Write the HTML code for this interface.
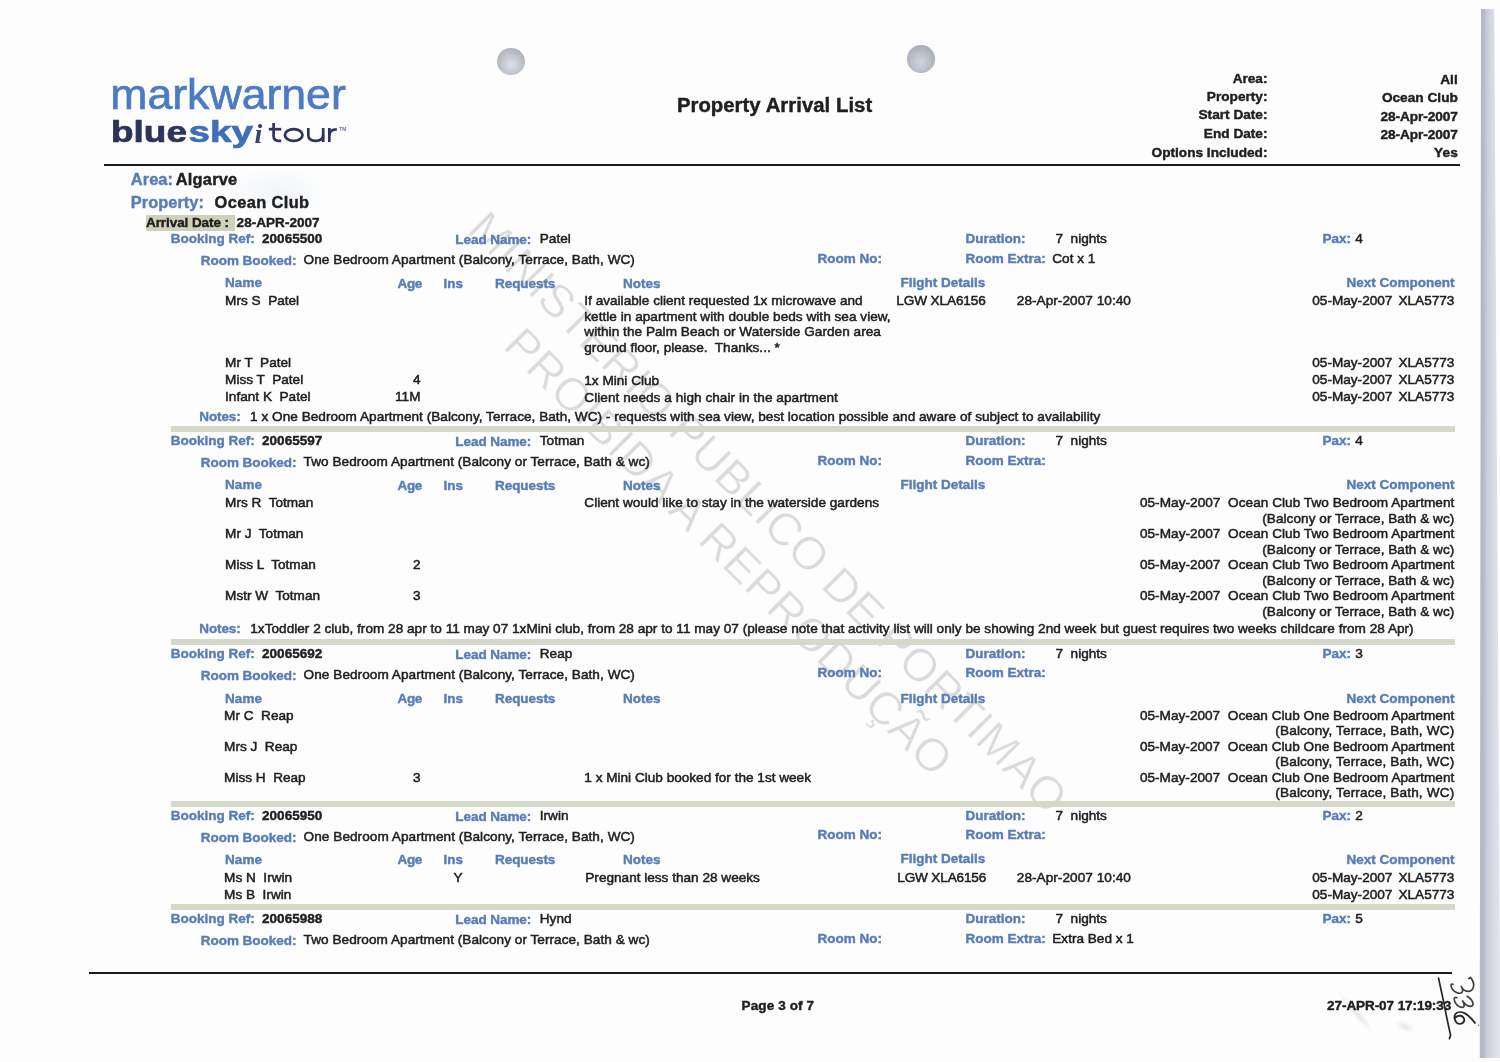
<!DOCTYPE html>
<html><head><meta charset="utf-8"><title>Property Arrival List</title>
<style>
html,body{margin:0;padding:0;background:#fdfdfd}
body{width:1500px;height:1062px;position:relative;overflow:hidden;background:#fdfdfd;filter:blur(0.45px);font-family:"Liberation Sans",sans-serif;color:#202020}
.t{position:absolute;white-space:pre;line-height:0;font-size:13.6px;margin-top:-0.3465em;-webkit-text-stroke:0.5px currentColor}
.b{font-weight:700;font-size:13.5px;-webkit-text-stroke:0.42px currentColor}
.hb{font-weight:700;font-size:13.65px;-webkit-text-stroke:0.42px currentColor}
.bl{color:#587db6}
.h1{font-weight:700;font-size:16.4px;-webkit-text-stroke:0.42px currentColor}
.title{font-weight:700;font-size:20.3px;-webkit-text-stroke:0.42px currentColor}
.band{position:absolute;background:#d5d9ca}
.hl{position:absolute;background:#cfd1bb}
.abs{position:absolute}
.wm{position:absolute;white-space:pre;line-height:0;font-size:46px;color:#dbdbdb;transform-origin:0 0;transform:rotate(45deg) translateY(-0.3465em);-webkit-text-stroke:0.5px #fdfdfd}
.rule{position:absolute;background:#1c1c1c;height:2.4px}
.hole{position:absolute;width:28px;height:27.6px;border-radius:50%;background:radial-gradient(circle at 50% 60%,#dcdfe6 0%,#ccd0d9 28%,#b6b9c3 62%,#a5a7b0 100%);filter:blur(0.5px)}
.sm{position:absolute;border-radius:50%}
.edge{position:absolute;left:1479px;top:9px;width:22px;height:1049px;background:linear-gradient(90deg,#b3b6be 0%,#b8bbc5 22%,#cbcfd9 38%,#d9dce5 65%,#e3e6ee 100%);clip-path:polygon(2px 0,15.2px 0,21.5px 100%,0.8px 100%);filter:blur(0.4px)}
</style></head><body>
<div class="edge"></div>
<div class="sm" style="left:228px;top:166px;width:100px;height:56px;background:radial-gradient(ellipse at 50% 50%,rgba(228,234,243,0.45) 0%,rgba(234,239,246,0.28) 45%,rgba(253,253,253,0) 72%)"></div>
<div class="sm" style="left:1330px;top:1008px;width:52px;height:9px;transform:rotate(50deg);background:radial-gradient(ellipse at 50% 50%,rgba(222,222,226,0.8) 0%,rgba(235,235,238,0.4) 50%,rgba(253,253,253,0) 75%)"></div>
<div class="sm" style="left:1394px;top:1021px;width:22px;height:11px;transform:rotate(20deg);background:radial-gradient(ellipse at 50% 50%,rgba(226,226,230,0.8) 0%,rgba(238,238,240,0.4) 50%,rgba(253,253,253,0) 75%)"></div>
<div class="hole" style="left:496.9px;top:47.6px"></div>
<div class="hole" style="left:907.3px;top:45.3px;background:radial-gradient(circle at 48% 60%,#d0d4dd 0%,#c3c7d1 28%,#b0b3bd 62%,#a2a4ad 100%)"></div>
<div class="rule" style="left:104px;top:163.8px;width:1356px"></div>
<div class="rule" style="left:89px;top:972.2px;width:1363px;height:2px"></div>
<svg class="abs" style="left:0;top:0" width="400" height="165" viewBox="0 0 400 165">
<g font-family="'Liberation Sans',sans-serif">
<text x="110.3" y="108.5" font-size="43" fill="#4c7bc3" stroke="#4c7bc3" stroke-width="0.7" textLength="235.5" lengthAdjust="spacingAndGlyphs">markwarner</text>
<text x="111" y="142" font-size="30" font-weight="700" fill="#2b3459" stroke="#2b3459" stroke-width="0.7" textLength="76" lengthAdjust="spacingAndGlyphs">blue</text>
<text x="188.5" y="142" font-size="30" font-weight="700" fill="#416eb6" stroke="#416eb6" stroke-width="0.7" textLength="64.5" lengthAdjust="spacingAndGlyphs">sky</text>
<text x="254.6" y="142.8" font-family="'Liberation Serif',serif" font-style="italic" font-weight="700" font-size="28" fill="#33456f">i</text>
<g fill="none" stroke="#2b3459" stroke-width="2.7" stroke-linecap="butt">
<path d="M273.6 122.9 V136 Q273.6 140.8 278.6 140.8 H281.2"/>
<path d="M268.8 129.2 H281.2"/>
<ellipse cx="293.7" cy="135" rx="8.8" ry="5.9"/>
<path d="M308.3 128 V135 Q308.3 140.8 315.5 140.8 Q323.2 140.8 323.2 135"/>
<path d="M323.2 128 V142"/>
<path d="M329.3 128 V142"/>
<path d="M329.3 135 Q329.6 129.3 336.8 129.3"/>
</g>
<text x="339.3" y="131" font-size="5" font-weight="700" fill="#6a7aa5">TM</text>
</g></svg>
<div class="wm" style="left:466px;top:231px;letter-spacing:0.29px;transform:rotate(45.15deg) translateY(-0.3465em)">MINISTERIO PUBLICO DE PORTIMAO</div>
<div class="wm" style="left:501.5px;top:347px;letter-spacing:0.6px">PROIBIDA A REPRODUÇÃO</div>
<div class="hl" style="left:146px;top:214.5px;width:88.5px;height:16.3px"></div>
<div class="band" style="left:170.5px;top:425.7px;width:1284.5px;height:6.4px"></div>
<div class="band" style="left:170.5px;top:638.7px;width:1284.5px;height:6.4px"></div>
<div class="band" style="left:170.5px;top:801px;width:1284.5px;height:6.4px"></div>
<div class="band" style="left:170.5px;top:904px;width:1284.5px;height:6.4px"></div>
<div class="t hb" style="right:232.5px;top:84.1px;">Area:</div>
<div class="t hb" style="right:232.5px;top:102.1px;">Property:</div>
<div class="t hb" style="right:232.5px;top:120.1px;">Start Date:</div>
<div class="t hb" style="right:232.5px;top:138.3px;">End Date:</div>
<div class="t hb" style="right:232.5px;top:157.4px;">Options Included:</div>
<div class="t hb" style="left:1440.2px;top:85.0px;letter-spacing:0.076px;">All</div>
<div class="t hb" style="left:1381.9px;top:103.0px;letter-spacing:0.017px;">Ocean Club</div>
<div class="t hb" style="left:1380.6px;top:121.4px;letter-spacing:-0.077px;">28-Apr-2007</div>
<div class="t hb" style="left:1380.6px;top:139.5px;letter-spacing:-0.077px;">28-Apr-2007</div>
<div class="t hb" style="left:1434.0px;top:157.5px;letter-spacing:0.111px;">Yes</div>
<div class="t title" style="left:676.9px;top:112.1px;letter-spacing:0.051px;">Property Arrival List</div>
<div class="t h1 bl" style="left:130.8px;top:185.0px;letter-spacing:0.067px;">Area:</div>
<div class="t h1" style="left:175.8px;top:185.0px;letter-spacing:0.214px;">Algarve</div>
<div class="t h1 bl" style="left:130.8px;top:207.3px;letter-spacing:0.041px;">Property:</div>
<div class="t h1" style="left:214.6px;top:207.3px;letter-spacing:0.376px;">Ocean Club</div>
<div class="t b" style="left:146.0px;top:227.9px;letter-spacing:-0.078px;">Arrival Date :</div>
<div class="t b" style="left:236.6px;top:227.9px;letter-spacing:0.046px;">28-APR-2007</div>
<div class="t b bl" style="left:170.8px;top:243.9px;letter-spacing:-0.012px;">Booking Ref:</div>
<div class="t b" style="left:262.0px;top:243.9px;letter-spacing:0.034px;">20065500</div>
<div class="t b bl" style="left:455.3px;top:244.9px;letter-spacing:-0.058px;">Lead Name:</div>
<div class="t r" style="left:539.8px;top:243.9px;">Patel</div>
<div class="t b bl" style="left:965.5px;top:243.9px;">Duration:</div>
<div class="t r" style="left:1055.5px;top:243.9px;">7  nights</div>
<div class="t b bl" style="left:1322.5px;top:243.9px;">Pax:</div>
<div class="t r" style="left:1355.3px;top:243.9px;">4</div>
<div class="t b bl" style="left:200.8px;top:265.6px;letter-spacing:-0.038px;">Room Booked:</div>
<div class="t r" style="left:303.6px;top:264.6px;letter-spacing:0.049px;">One Bedroom Apartment (Balcony, Terrace, Bath, WC)</div>
<div class="t b bl" style="left:817.5px;top:263.4px;">Room No:</div>
<div class="t b bl" style="left:965.5px;top:263.4px;">Room Extra:</div>
<div class="t r" style="left:1052.3px;top:263.9px;">Cot x 1</div>
<div class="t b bl" style="left:225.1px;top:287.9px;letter-spacing:0.017px;">Name</div>
<div class="t b bl" style="left:397.6px;top:288.2px;letter-spacing:-0.389px;">Age</div>
<div class="t b bl" style="left:443.5px;top:288.2px;">Ins</div>
<div class="t b bl" style="left:495.1px;top:288.4px;letter-spacing:-0.079px;">Requests</div>
<div class="t b bl" style="left:623.1px;top:288.4px;">Notes</div>
<div class="t b bl" style="left:900.6px;top:287.4px;">Flight Details</div>
<div class="t b bl" style="right:45.6px;top:287.9px;">Next Component</div>
<div class="t r" style="left:225.1px;top:305.6px;">Mrs S  Patel</div>
<div class="t r" style="left:584.3px;top:305.6px;letter-spacing:0.006px;">If available client requested 1x microwave and</div>
<div class="t r" style="left:896.3px;top:305.6px;letter-spacing:-0.121px;">LGW XLA6156</div>
<div class="t r" style="left:1016.8px;top:305.6px;letter-spacing:0.046px;">28-Apr-2007 10:40</div>
<div class="t r" style="left:1312.3px;top:305.6px;">05-May-2007</div>
<div class="t r" style="right:45.6px;top:305.6px;">XLA5773</div>
<div class="t r" style="left:584.3px;top:321.7px;letter-spacing:0.021px;">kettle in apartment with double beds with sea view,</div>
<div class="t r" style="left:584.3px;top:337.2px;letter-spacing:0.037px;">within the Palm Beach or Waterside Garden area</div>
<div class="t r" style="left:584.3px;top:352.7px;">ground floor, please.  Thanks... *</div>
<div class="t r" style="left:225.1px;top:367.6px;">Mr T  Patel</div>
<div class="t r" style="left:1312.3px;top:367.6px;">05-May-2007</div>
<div class="t r" style="right:45.6px;top:367.6px;">XLA5773</div>
<div class="t r" style="left:225.1px;top:384.9px;">Miss T  Patel</div>
<div class="t r" style="right:1079.5px;top:384.9px;">4</div>
<div class="t r" style="left:584.3px;top:385.5px;">1x Mini Club</div>
<div class="t r" style="left:1312.3px;top:384.9px;">05-May-2007</div>
<div class="t r" style="right:45.6px;top:384.9px;">XLA5773</div>
<div class="t r" style="left:225.1px;top:401.8px;">Infant K  Patel</div>
<div class="t r" style="right:1079.5px;top:401.8px;">11M</div>
<div class="t r" style="left:584.3px;top:402.4px;letter-spacing:0.048px;">Client needs a high chair in the apartment</div>
<div class="t r" style="left:1312.3px;top:401.8px;">05-May-2007</div>
<div class="t r" style="right:45.6px;top:401.8px;">XLA5773</div>
<div class="t b bl" style="left:199.3px;top:421.8px;letter-spacing:-0.111px;">Notes:</div>
<div class="t r" style="left:250.1px;top:421.8px;letter-spacing:0.021px;">1 x One Bedroom Apartment (Balcony, Terrace, Bath, WC) - requests with sea view, best location possible and aware of subject to availability</div>
<div class="t b bl" style="left:170.8px;top:446.1px;letter-spacing:-0.012px;">Booking Ref:</div>
<div class="t b" style="left:262.0px;top:446.1px;letter-spacing:0.034px;">20065597</div>
<div class="t b bl" style="left:455.3px;top:447.1px;letter-spacing:-0.058px;">Lead Name:</div>
<div class="t r" style="left:539.8px;top:446.1px;">Totman</div>
<div class="t b bl" style="left:965.5px;top:446.1px;">Duration:</div>
<div class="t r" style="left:1055.5px;top:446.1px;">7  nights</div>
<div class="t b bl" style="left:1322.5px;top:446.1px;">Pax:</div>
<div class="t r" style="left:1355.3px;top:446.1px;">4</div>
<div class="t b bl" style="left:200.8px;top:467.8px;letter-spacing:-0.038px;">Room Booked:</div>
<div class="t r" style="left:303.6px;top:466.8px;letter-spacing:0.037px;">Two Bedroom Apartment (Balcony or Terrace, Bath &amp; wc)</div>
<div class="t b bl" style="left:817.5px;top:465.6px;">Room No:</div>
<div class="t b bl" style="left:965.5px;top:465.6px;">Room Extra:</div>
<div class="t b bl" style="left:225.1px;top:490.1px;letter-spacing:0.017px;">Name</div>
<div class="t b bl" style="left:397.6px;top:490.4px;letter-spacing:-0.389px;">Age</div>
<div class="t b bl" style="left:443.5px;top:490.4px;">Ins</div>
<div class="t b bl" style="left:495.1px;top:490.6px;letter-spacing:-0.079px;">Requests</div>
<div class="t b bl" style="left:623.1px;top:490.6px;">Notes</div>
<div class="t b bl" style="left:900.6px;top:489.6px;">Flight Details</div>
<div class="t b bl" style="right:45.6px;top:490.1px;">Next Component</div>
<div class="t r" style="left:225.1px;top:508.1px;">Mrs R  Totman</div>
<div class="t r" style="left:1139.9px;top:508.1px;letter-spacing:0.042px;">05-May-2007  Ocean Club Two Bedroom Apartment</div>
<div class="t r" style="left:1262.3px;top:523.6px;letter-spacing:0.038px;">(Balcony or Terrace, Bath &amp; wc)</div>
<div class="t r" style="left:225.1px;top:539.1px;">Mr J  Totman</div>
<div class="t r" style="left:1139.9px;top:539.1px;letter-spacing:0.042px;">05-May-2007  Ocean Club Two Bedroom Apartment</div>
<div class="t r" style="left:1262.3px;top:554.6px;letter-spacing:0.038px;">(Balcony or Terrace, Bath &amp; wc)</div>
<div class="t r" style="left:225.1px;top:570.1px;">Miss L  Totman</div>
<div class="t r" style="right:1079.5px;top:570.1px;">2</div>
<div class="t r" style="left:1139.9px;top:570.1px;letter-spacing:0.042px;">05-May-2007  Ocean Club Two Bedroom Apartment</div>
<div class="t r" style="left:1262.3px;top:585.6px;letter-spacing:0.038px;">(Balcony or Terrace, Bath &amp; wc)</div>
<div class="t r" style="left:225.1px;top:601.1px;">Mstr W  Totman</div>
<div class="t r" style="right:1079.5px;top:601.1px;">3</div>
<div class="t r" style="left:1139.9px;top:601.1px;letter-spacing:0.042px;">05-May-2007  Ocean Club Two Bedroom Apartment</div>
<div class="t r" style="left:1262.3px;top:616.6px;letter-spacing:0.038px;">(Balcony or Terrace, Bath &amp; wc)</div>
<div class="t r" style="left:584.3px;top:508.1px;letter-spacing:0.016px;">Client would like to stay in the waterside gardens</div>
<div class="t b bl" style="left:199.3px;top:633.9px;letter-spacing:-0.111px;">Notes:</div>
<div class="t r" style="left:250.3px;top:633.9px;letter-spacing:0.013px;">1xToddler 2 club, from 28 apr to 11 may 07 1xMini club, from 28 apr to 11 may 07 (please note that activity list will only be showing 2nd week but guest requires two weeks childcare from 28 Apr)</div>
<div class="t b bl" style="left:170.8px;top:658.6px;letter-spacing:-0.012px;">Booking Ref:</div>
<div class="t b" style="left:262.0px;top:658.6px;letter-spacing:0.034px;">20065692</div>
<div class="t b bl" style="left:455.3px;top:659.6px;letter-spacing:-0.058px;">Lead Name:</div>
<div class="t r" style="left:539.8px;top:658.6px;">Reap</div>
<div class="t b bl" style="left:965.5px;top:658.6px;">Duration:</div>
<div class="t r" style="left:1055.5px;top:658.6px;">7  nights</div>
<div class="t b bl" style="left:1322.5px;top:658.6px;">Pax:</div>
<div class="t r" style="left:1355.3px;top:658.6px;">3</div>
<div class="t b bl" style="left:200.8px;top:680.3px;letter-spacing:-0.038px;">Room Booked:</div>
<div class="t r" style="left:303.6px;top:679.3px;letter-spacing:0.049px;">One Bedroom Apartment (Balcony, Terrace, Bath, WC)</div>
<div class="t b bl" style="left:817.5px;top:678.1px;">Room No:</div>
<div class="t b bl" style="left:965.5px;top:678.1px;">Room Extra:</div>
<div class="t b bl" style="left:225.1px;top:703.4px;letter-spacing:0.017px;">Name</div>
<div class="t b bl" style="left:397.6px;top:703.7px;letter-spacing:-0.389px;">Age</div>
<div class="t b bl" style="left:443.5px;top:703.7px;">Ins</div>
<div class="t b bl" style="left:495.1px;top:703.9px;letter-spacing:-0.079px;">Requests</div>
<div class="t b bl" style="left:623.1px;top:703.9px;">Notes</div>
<div class="t b bl" style="left:900.6px;top:703.4px;">Flight Details</div>
<div class="t b bl" style="right:45.6px;top:703.4px;">Next Component</div>
<div class="t r" style="left:224.1px;top:720.6px;">Mr C  Reap</div>
<div class="t r" style="left:1139.9px;top:720.6px;letter-spacing:0.019px;">05-May-2007  Ocean Club One Bedroom Apartment</div>
<div class="t r" style="left:1275.3px;top:736.1px;letter-spacing:0.153px;">(Balcony, Terrace, Bath, WC)</div>
<div class="t r" style="left:224.1px;top:751.6px;">Mrs J  Reap</div>
<div class="t r" style="left:1139.9px;top:751.6px;letter-spacing:0.019px;">05-May-2007  Ocean Club One Bedroom Apartment</div>
<div class="t r" style="left:1275.3px;top:767.1px;letter-spacing:0.153px;">(Balcony, Terrace, Bath, WC)</div>
<div class="t r" style="left:224.1px;top:782.6px;">Miss H  Reap</div>
<div class="t r" style="right:1079.5px;top:782.6px;">3</div>
<div class="t r" style="left:1139.9px;top:782.6px;letter-spacing:0.019px;">05-May-2007  Ocean Club One Bedroom Apartment</div>
<div class="t r" style="left:1275.3px;top:798.1px;letter-spacing:0.153px;">(Balcony, Terrace, Bath, WC)</div>
<div class="t r" style="left:584.3px;top:782.6px;">1 x Mini Club booked for the 1st week</div>
<div class="t b bl" style="left:170.8px;top:820.6px;letter-spacing:-0.012px;">Booking Ref:</div>
<div class="t b" style="left:262.0px;top:820.6px;letter-spacing:0.034px;">20065950</div>
<div class="t b bl" style="left:455.3px;top:821.6px;letter-spacing:-0.058px;">Lead Name:</div>
<div class="t r" style="left:539.8px;top:820.6px;">Irwin</div>
<div class="t b bl" style="left:965.5px;top:820.6px;">Duration:</div>
<div class="t r" style="left:1055.5px;top:820.6px;">7  nights</div>
<div class="t b bl" style="left:1322.5px;top:820.6px;">Pax:</div>
<div class="t r" style="left:1355.3px;top:820.6px;">2</div>
<div class="t b bl" style="left:200.8px;top:842.3px;letter-spacing:-0.038px;">Room Booked:</div>
<div class="t r" style="left:303.6px;top:841.3px;letter-spacing:0.049px;">One Bedroom Apartment (Balcony, Terrace, Bath, WC)</div>
<div class="t b bl" style="left:817.5px;top:840.1px;">Room No:</div>
<div class="t b bl" style="left:965.5px;top:840.1px;">Room Extra:</div>
<div class="t b bl" style="left:225.1px;top:864.6px;letter-spacing:0.017px;">Name</div>
<div class="t b bl" style="left:397.6px;top:864.9px;letter-spacing:-0.389px;">Age</div>
<div class="t b bl" style="left:443.5px;top:864.9px;">Ins</div>
<div class="t b bl" style="left:495.1px;top:865.1px;letter-spacing:-0.079px;">Requests</div>
<div class="t b bl" style="left:623.1px;top:865.1px;">Notes</div>
<div class="t b bl" style="left:900.6px;top:864.1px;">Flight Details</div>
<div class="t b bl" style="right:45.6px;top:864.6px;">Next Component</div>
<div class="t r" style="left:224.1px;top:882.6px;">Ms N  Irwin</div>
<div class="t r" style="left:453.6px;top:882.6px;">Y</div>
<div class="t r" style="left:585.3px;top:882.6px;">Pregnant less than 28 weeks</div>
<div class="t r" style="left:897.3px;top:882.6px;letter-spacing:-0.166px;">LGW XLA6156</div>
<div class="t r" style="left:1016.8px;top:882.6px;letter-spacing:0.046px;">28-Apr-2007 10:40</div>
<div class="t r" style="left:1312.3px;top:882.6px;">05-May-2007</div>
<div class="t r" style="right:45.6px;top:882.6px;">XLA5773</div>
<div class="t r" style="left:224.1px;top:899.6px;">Ms B  Irwin</div>
<div class="t r" style="left:1312.3px;top:899.6px;">05-May-2007</div>
<div class="t r" style="right:45.6px;top:899.6px;">XLA5773</div>
<div class="t b bl" style="left:170.8px;top:924.1px;letter-spacing:-0.012px;">Booking Ref:</div>
<div class="t b" style="left:262.0px;top:924.1px;letter-spacing:0.034px;">20065988</div>
<div class="t b bl" style="left:455.3px;top:925.1px;letter-spacing:-0.058px;">Lead Name:</div>
<div class="t r" style="left:539.8px;top:924.1px;">Hynd</div>
<div class="t b bl" style="left:965.5px;top:924.1px;">Duration:</div>
<div class="t r" style="left:1055.5px;top:924.1px;">7  nights</div>
<div class="t b bl" style="left:1322.5px;top:924.1px;">Pax:</div>
<div class="t r" style="left:1355.3px;top:924.1px;">5</div>
<div class="t b bl" style="left:200.8px;top:945.8px;letter-spacing:-0.038px;">Room Booked:</div>
<div class="t r" style="left:303.6px;top:944.8px;letter-spacing:0.037px;">Two Bedroom Apartment (Balcony or Terrace, Bath &amp; wc)</div>
<div class="t b bl" style="left:817.5px;top:943.6px;">Room No:</div>
<div class="t b bl" style="left:965.5px;top:943.6px;">Room Extra:</div>
<div class="t r" style="left:1052.3px;top:944.1px;">Extra Bed x 1</div>
<div class="t b" style="left:741.5px;top:1010.6px;letter-spacing:0.124px;">Page 3 of 7</div>
<div class="t b" style="left:1327.1px;top:1010.9px;letter-spacing:-0.071px;">27-APR-07 17:19:33</div>
<svg class="abs" style="left:1420px;top:960px" width="80" height="100" viewBox="1420 960 80 100">
<g fill="none" stroke="#3a3a3a" stroke-width="1.7" stroke-linecap="round" stroke-linejoin="round">
<path d="M1438.6 978.2 C1440.5 988 1442.5 996 1443.8 1002.6 C1446 1014 1448.5 1026 1450.6 1035.4 L1449.4 1038.6" stroke="#262626" stroke-width="1.7"/>
<path d="M1468.8 978.6 L1470.4 977.4 C1472.6 980 1474.2 983 1473.6 986.2 C1473 989.4 1471.4 991.2 1468.6 991.4 C1465.4 991.4 1462.6 989.4 1461.2 986.4 C1462.4 988.6 1463.2 990.6 1462.2 992 C1461 993.6 1458.6 993.4 1456.4 992.4 C1453.4 990.8 1451.4 988.2 1451 985.6 C1450.8 984.4 1451.8 983.8 1453 984.2" stroke="#404040"/>
<path d="M1467.2 996.2 C1470 998 1472.6 1000.6 1473 1003.4 C1473.2 1005.2 1472.4 1006.2 1470.6 1006.4 C1467.4 1006.4 1464.4 1003.6 1462.6 1001 C1463.8 1003 1464.8 1005.2 1463.8 1006.6 C1462.8 1007.8 1460.8 1007.4 1459.2 1006.6 C1456.6 1005 1454.6 1002 1454.2 999.4 C1454 997.8 1455.2 997 1456.8 997.6" stroke="#404040"/>
<path d="M1475 1023 C1472.4 1019.6 1469 1015.6 1465 1013.4 C1461.4 1011.6 1457.2 1011.6 1455.4 1014 C1453.8 1016.4 1454.4 1020.4 1456.6 1022.6 C1458.8 1024.6 1462.4 1024.2 1463.8 1021.8 C1465 1019.4 1463.6 1016.4 1460.8 1015.8 C1458.6 1015.4 1456.8 1016.2 1455.8 1017.4" stroke="#2a2a2a" stroke-width="1.9"/>
<circle cx="1478.6" cy="1025.2" r="0.6" fill="#555" stroke="none"/>
</g></svg>
</body></html>
